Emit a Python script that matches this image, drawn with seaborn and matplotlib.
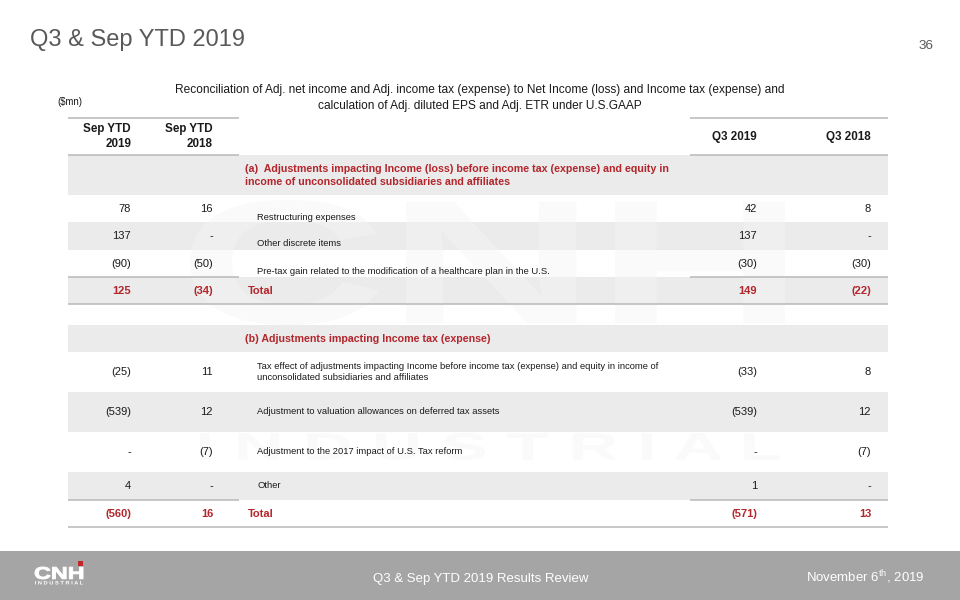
import matplotlib
matplotlib.use("Agg")
import matplotlib.pyplot as plt
import seaborn as sns
from matplotlib.patches import Rectangle, PathPatch
from matplotlib.textpath import TextPath
from matplotlib.font_manager import FontProperties
from matplotlib.transforms import Affine2D

# ── data ────────────────────────────────────────────────────────────────────
title = "Q3 & Sep YTD 2019"
page_no = "36"
subtitle = ["Reconciliation of Adj. net income and Adj. income tax (expense) to Net Income (loss) and Income tax (expense) and",
            "calculation of Adj. diluted EPS and Adj. ETR under U.S.GAAP"]
col_headers = ["Sep YTD\n2019", "Sep YTD\n2018", "Q3 2019", "Q3 2018"]

sec_a = ["(a)  Adjustments impacting Income (loss) before income tax (expense) and equity in",
         "income of unconsolidated subsidiaries and affiliates"]
items_a = ["Restructuring expenses",
           "Other discrete items",
           "Pre-tax gain related to the modification of a healthcare plan in the U.S."]
ytd19_a = [78, 137, -90]
ytd18_a = [16, None, -50]
q319_a = [42, 137, -30]
q318_a = [8, None, -30]
total_a = [125, -34, 149, -22]

sec_b = "(b) Adjustments impacting Income tax (expense)"
items_b = ["Tax effect of adjustments impacting Income before income tax (expense) and equity in income of\nunconsolidated subsidiaries and affiliates",
           "Adjustment to valuation allowances on deferred tax assets",
           "Adjustment to the 2017 impact of U.S. Tax reform",
           "Other"]
ytd19_b = [-25, -539, None, 4]
ytd18_b = [11, 12, -7, None]
q319_b = [-33, -539, None, 1]
q318_b = [8, 12, -7, None]
total_b = [-560, 16, -571, 13]

footer_mid = "Q3 & Sep YTD 2019 Results Review"
footer_date = "November 6$^{\\mathrm{th}}$, 2019"

# ── style ───────────────────────────────────────────────────────────────────
sns.set_theme(style="white")
plt.rcParams["font.family"] = ["Liberation Sans", "DejaVu Sans"]
plt.rcParams["mathtext.fontset"] = "custom"
plt.rcParams["mathtext.rm"] = "Liberation Sans"

RED = "#B3262C"
BAND = "#EBEBEB"
RULE = "#BDBDBD"
TXT = "#1A1A1A"
GREY_T = "#595959"

COL_X = [131, 213, 757, 871]   # right edges of number columns
X0, X1 = 68, 888
DESC_X, SEC_X = 257, 245
NUM_FS, DESC_FS, SEC_FS, TOT_FS, HEAD_FS = 8.0, 6.75, 7.65, 8.0, 8.4


def fmt(v):
    if v is None:
        return "-"
    return f"({abs(v)})" if v < 0 else str(v)


fig = plt.figure(figsize=(9.6, 6), dpi=100)
ax = fig.add_axes([0, 0, 1, 1])
ax.set_xlim(0, 960)
ax.set_ylim(600, 0)
ax.axis("off")


def band(top, bot, color=BAND):
    ax.add_patch(Rectangle((X0, top), X1 - X0, bot - top, color=color, lw=0, zorder=1))


def rule(y, full=False):
    segs = [(X0, X1)] if full else [(X0, 239), (690, X1)]
    for a, b in segs:
        ax.plot([a, b], [y, y], color=RULE, lw=1.2, zorder=2, solid_capstyle="butt")


def numbers(vals, y, color=TXT, weight="normal", fs=NUM_FS):
    for x, v in zip(COL_X, vals):
        ax.text(x, y, fmt(v), ha="right", va="center", fontsize=fs, color=color,
                weight=weight, zorder=3)


def stretched(text, x0, x1, y_top, y_bot, color="white", z=3, alpha=1.0, lw=0.0):
    tp = TextPath((0, 0), text, size=1, prop=FontProperties(family="Liberation Sans", weight="bold"))
    ext = tp.get_extents()
    sx = (x1 - x0) / ext.width
    sy = (y_bot - y_top) / ext.height
    tr = Affine2D().translate(-ext.x0, -ext.y0).scale(sx, -sy).translate(x0, y_bot) + ax.transData
    ax.add_patch(PathPatch(tp, transform=tr, facecolor=color, edgecolor=color, lw=lw,
                           alpha=alpha, zorder=z))


# very faint watermark behind the table
for z, col, a in [(0.5, "#F9F9F9", 1.0), (1.5, "white", 0.22)]:
    stretched("CNH", 190, 785, 200, 325, color=col, z=z, alpha=a)
    stretched("I N D U S T R I A L", 200, 780, 433, 460, color=col, z=z, alpha=a)

# title, page number
ax.text(30, 46, title, fontsize=17, color=GREY_T, va="baseline")
ax.text(934, 49, page_no, fontsize=9.7, color=GREY_T, va="baseline", ha="right")
ax.text(480, 90, subtitle[0], fontsize=8.6, color=TXT, ha="center", va="center")
ax.text(480, 106, subtitle[1], fontsize=8.6, color=TXT, ha="center", va="center")
ax.text(57, 102, "($mn)", fontsize=6.9, color=TXT, va="center")

# header
rule(118)
rule(155)
for i, h in enumerate(col_headers):
    if "\n" in h:
        l1, l2 = h.split("\n")
        ax.text(COL_X[i], 129, l1, ha="right", va="center", fontsize=HEAD_FS, weight="bold", color=TXT)
        ax.text(COL_X[i], 144, l2, ha="right", va="center", fontsize=HEAD_FS, weight="bold", color=TXT)
    else:
        ax.text(COL_X[i], 137, h, ha="right", va="center", fontsize=HEAD_FS, weight="bold", color=TXT)

# section (a)
band(155, 195)
for line, y in zip(sec_a, [169, 182]):
    ax.text(SEC_X, y, line, fontsize=SEC_FS, weight="bold", color=RED, va="center", zorder=3)
rows_a = [(195, 222, False), (222, 250, True), (250, 277, False)]
for i, (top, bot, shade) in enumerate(rows_a):
    if shade:
        band(top, bot)
    numbers([ytd19_a[i], ytd18_a[i], q319_a[i], q318_a[i]], top + 14)
    ax.text(DESC_X, top + 22, items_a[i], fontsize=DESC_FS, color=TXT, va="center", zorder=3)
band(277, 304)
rule(277)
rule(304, full=True)
numbers(total_a, 291, color=RED, weight="bold", fs=TOT_FS)
ax.text(248, 291, "Total", fontsize=TOT_FS, weight="bold", color=RED, va="center", zorder=3)

# section (b)
band(325, 352)
ax.text(SEC_X, 339, sec_b, fontsize=SEC_FS, weight="bold", color=RED, va="center", zorder=3)
rows_b = [(352, 392, False), (392, 432, True), (432, 472, False), (472, 500, True)]
for i, (top, bot, shade) in enumerate(rows_b):
    if shade:
        band(top, bot)
    yc = (top + bot) / 2
    numbers([ytd19_b[i], ytd18_b[i], q319_b[i], q318_b[i]], yc)
    ax.text(DESC_X, yc, items_b[i], fontsize=DESC_FS, color=TXT, va="center", linespacing=1.2, zorder=3)
rule(500)
rule(527, full=True)
numbers(total_b, 514, color=RED, weight="bold", fs=TOT_FS)
ax.text(248, 514, "Total", fontsize=TOT_FS, weight="bold", color=RED, va="center", zorder=3)

# footer
ax.add_patch(Rectangle((0, 551), 960, 49, color="#A5A5A5", lw=0, zorder=1))
ax.text(373, 582, footer_mid, fontsize=9.5, color="white", va="baseline", zorder=3)
ax.text(925, 582, footer_date, fontsize=9.5, color="white", va="baseline", ha="right", zorder=3)

# logo
stretched("CNH", 35, 83, 567, 579, lw=0.7)
stretched("I N D U S T R I A L", 35, 83, 581, 584.5)
ax.add_patch(Rectangle((77.5, 561), 5.5, 5, color="#C0272D", lw=0, zorder=3))

fig.savefig("out.png", dpi=100)
